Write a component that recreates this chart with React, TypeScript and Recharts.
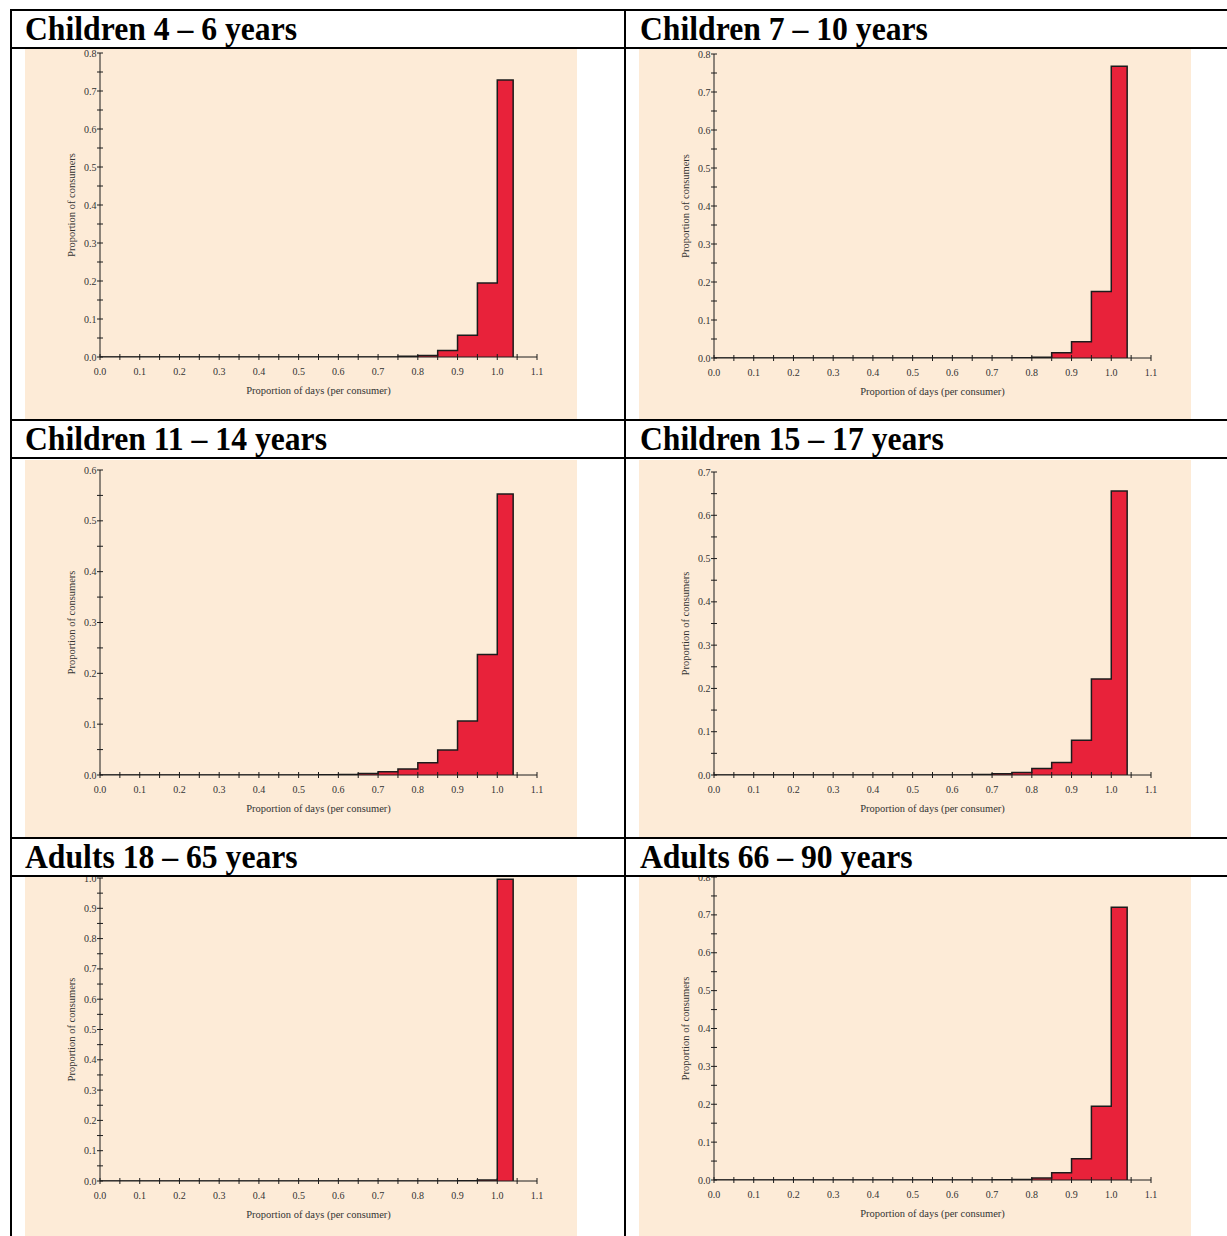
import React from 'react';
import { AreaChart, Area, XAxis, YAxis } from 'recharts';

// ---------- data ----------
const panelTitles = [
  'Children 4 – 6 years',
  'Children 7 – 10 years',
  'Children 11 – 14 years',
  'Children 15 – 17 years',
  'Adults 18 – 65 years',
  'Adults 66 – 90 years',
];

// histogram bin edges (last bin is 1.00 – 1.04)
const binEdges = [0, 0.05, 0.1, 0.15, 0.2, 0.25, 0.3, 0.35, 0.4, 0.45, 0.5, 0.55, 0.6, 0.65, 0.7, 0.75, 0.8, 0.85, 0.9, 0.95, 1.0, 1.04];

// proportion of consumers per bin (21 bins)
const children4to6 = [0, 0, 0, 0, 0, 0, 0, 0, 0, 0, 0, 0, 0, 0, 0, 0.002, 0.004, 0.017, 0.057, 0.195, 0.729];
const children7to10 = [0, 0, 0, 0, 0, 0, 0, 0, 0, 0, 0, 0, 0, 0, 0, 0.0005, 0.002, 0.014, 0.043, 0.175, 0.768];
const children11to14 = [0, 0, 0, 0, 0, 0, 0, 0, 0, 0, 0, 0.0005, 0.001, 0.003, 0.0065, 0.012, 0.024, 0.049, 0.106, 0.237, 0.553];
const children15to17 = [0, 0, 0, 0, 0, 0, 0, 0, 0, 0, 0, 0, 0, 0.001, 0.003, 0.0055, 0.015, 0.029, 0.08, 0.222, 0.656];
const adults18to65 = [0, 0, 0, 0, 0, 0, 0, 0, 0, 0, 0, 0, 0, 0, 0, 0, 0, 0, 0.0005, 0.003, 0.996];
const adults66to90 = [0, 0, 0, 0, 0, 0, 0, 0, 0, 0, 0, 0, 0, 0, 0.0005, 0.001, 0.005, 0.019, 0.056, 0.195, 0.72];

const xTicks = [0, 0.05, 0.1, 0.15, 0.2, 0.25, 0.3, 0.35, 0.4, 0.45, 0.5, 0.55, 0.6, 0.65, 0.7, 0.75, 0.8, 0.85, 0.9, 0.95, 1.0, 1.05, 1.1];
const yTicks06 = [0, 0.05, 0.1, 0.15, 0.2, 0.25, 0.3, 0.35, 0.4, 0.45, 0.5, 0.55, 0.6];
const yTicks07 = [0, 0.05, 0.1, 0.15, 0.2, 0.25, 0.3, 0.35, 0.4, 0.45, 0.5, 0.55, 0.6, 0.65, 0.7];
const yTicks08 = [0, 0.05, 0.1, 0.15, 0.2, 0.25, 0.3, 0.35, 0.4, 0.45, 0.5, 0.55, 0.6, 0.65, 0.7, 0.75, 0.8];
const yTicks10 = [0, 0.05, 0.1, 0.15, 0.2, 0.25, 0.3, 0.35, 0.4, 0.45, 0.5, 0.55, 0.6, 0.65, 0.7, 0.75, 0.8, 0.85, 0.9, 0.95, 1.0];

const xTitle = 'Proportion of days (per consumer)';
const yTitle = 'Proportion of consumers';

// ---------- layout / style ----------
const BG = '#FDEBD7';
const RED = '#E8223A';
const INK = '#1c1c1c';
const SERIF = '"Liberation Serif", "Times New Roman", serif';
const CHART_W = 552;
const Y_AXIS_W = 75;
const RIGHT_M = 40;

const panels = [
  { values: children4to6, yMax: 0.8, yTicks: yTicks08, left: 25, top: 49, height: 370, axisTop: 53, axisBottom: 357 },
  { values: children7to10, yMax: 0.8, yTicks: yTicks08, left: 639, top: 49, height: 370, axisTop: 54, axisBottom: 358 },
  { values: children11to14, yMax: 0.6, yTicks: yTicks06, left: 25, top: 460, height: 377, axisTop: 470, axisBottom: 775 },
  { values: children15to17, yMax: 0.7, yTicks: yTicks07, left: 639, top: 460, height: 377, axisTop: 472, axisBottom: 775 },
  { values: adults18to65, yMax: 1.0, yTicks: yTicks10, left: 25, top: 877, height: 359, axisTop: 878, axisBottom: 1181 },
  { values: adults66to90, yMax: 0.8, yTicks: yTicks08, left: 639, top: 877, height: 359, axisTop: 877, axisBottom: 1180 },
];

const headerPos = [
  { x: 25, y: 40 },
  { x: 640, y: 40 },
  { x: 25, y: 450 },
  { x: 640, y: 450 },
  { x: 25, y: 868 },
  { x: 640, y: 868 },
];

const isMajor = (v: number) => Math.abs(v * 10 - Math.round(v * 10)) < 1e-6;

const YTick = (props: any) => {
  const { x, y, payload } = props;
  const v = payload.value as number;
  return (
    <g>
      <line x1={x - 3} x2={x + 3} y1={y} y2={y} stroke={INK} strokeWidth={1} />
      {isMajor(v) && (
        <text x={x - 3.5} y={y + 3.5} textAnchor="end" fontSize={10} fontFamily={SERIF} fill="#333">
          {v.toFixed(1)}
        </text>
      )}
    </g>
  );
};

const XTick = (props: any) => {
  const { x, y, payload } = props;
  const v = payload.value as number;
  return (
    <g>
      <line x1={x} x2={x} y1={y - 3} y2={y + 3} stroke={INK} strokeWidth={1} />
      {isMajor(v) && (
        <text x={x} y={y + 17.5} textAnchor="middle" fontSize={10} fontFamily={SERIF} fill="#333">
          {v.toFixed(1)}
        </text>
      )}
    </g>
  );
};

function Panel({ p }: { p: (typeof panels)[number] }) {
  const data = binEdges.map((edge, i) => ({ x: edge, y: i < p.values.length ? p.values[i] : 0 }));
  const marginTop = p.axisTop - p.top;
  const xAxisH = p.top + p.height - p.axisBottom;
  const plotH = p.axisBottom - p.axisTop;
  const plotCx = (Y_AXIS_W + (CHART_W - RIGHT_M)) / 2;
  return (
    <div style={{ position: 'absolute', left: p.left, top: p.top, width: CHART_W, height: p.height, background: BG, overflow: 'hidden' }}>
      <AreaChart width={CHART_W} height={p.height} data={data} margin={{ top: marginTop, right: RIGHT_M, left: 0, bottom: 0 }}>
        <XAxis
          dataKey="x"
          type="number"
          domain={[0, 1.1]}
          ticks={xTicks}
          interval={0}
          allowDataOverflow
          height={xAxisH}
          tickSize={0}
          tickMargin={0}
          tickLine={false}
          axisLine={{ stroke: INK, strokeWidth: 1 }}
          tick={<XTick />}
          label={() => (
            <text x={plotCx} y={p.axisBottom - p.top + 37} textAnchor="middle" fontSize={10.5} fontFamily={SERIF} fill="#333">
              {xTitle}
            </text>
          )}
        />
        <YAxis
          type="number"
          domain={[0, p.yMax]}
          ticks={p.yTicks}
          interval={0}
          allowDataOverflow
          width={Y_AXIS_W}
          tickSize={0}
          tickMargin={0}
          tickLine={false}
          axisLine={{ stroke: INK, strokeWidth: 1 }}
          tick={<YTick />}
          label={() => {
            const cx = Y_AXIS_W - 25.5;
            const cy = marginTop + plotH / 2;
            return (
              <text x={cx} y={cy} textAnchor="middle" fontSize={10.5} fontFamily={SERIF} fill="#333" transform={`rotate(-90 ${cx} ${cy})`}>
                {yTitle}
              </text>
            );
          }}
        />
        <Area
          dataKey="y"
          type="stepAfter"
          stroke={INK}
          strokeWidth={1.5}
          fill={RED}
          fillOpacity={1}
          baseValue={0}
          dot={false}
          activeDot={false}
          isAnimationActive={false}
        />
      </AreaChart>
    </div>
  );
}

export default function App() {
  const hLines = [10, 48, 420, 458, 838, 876];
  return (
    <div style={{ position: 'relative', width: 1227, height: 1236, overflow: 'hidden', background: '#fff' }}>
      <style>{'body{margin:0;overflow:hidden}'}</style>
      <svg width={1227} height={1236} style={{ position: 'absolute', left: 0, top: 0 }}>
        {hLines.map((y) => (
          <line key={y} x1={10} x2={1227} y1={y} y2={y} stroke="#000" strokeWidth={2} />
        ))}
        <line x1={11} x2={11} y1={9} y2={1236} stroke="#000" strokeWidth={2} />
        <line x1={625} x2={625} y1={9} y2={1236} stroke="#000" strokeWidth={2} />
        {panelTitles.map((t, i) => (
          <text
            key={t}
            x={0}
            y={0}
            fontFamily={SERIF}
            fontWeight="bold"
            fontSize={33}
            fill="#000"
            transform={`translate(${headerPos[i].x} ${headerPos[i].y}) scale(0.96 1)`}
          >
            {t}
          </text>
        ))}
      </svg>
      {panels.map((p, i) => (
        <Panel key={i} p={p} />
      ))}
    </div>
  );
}
